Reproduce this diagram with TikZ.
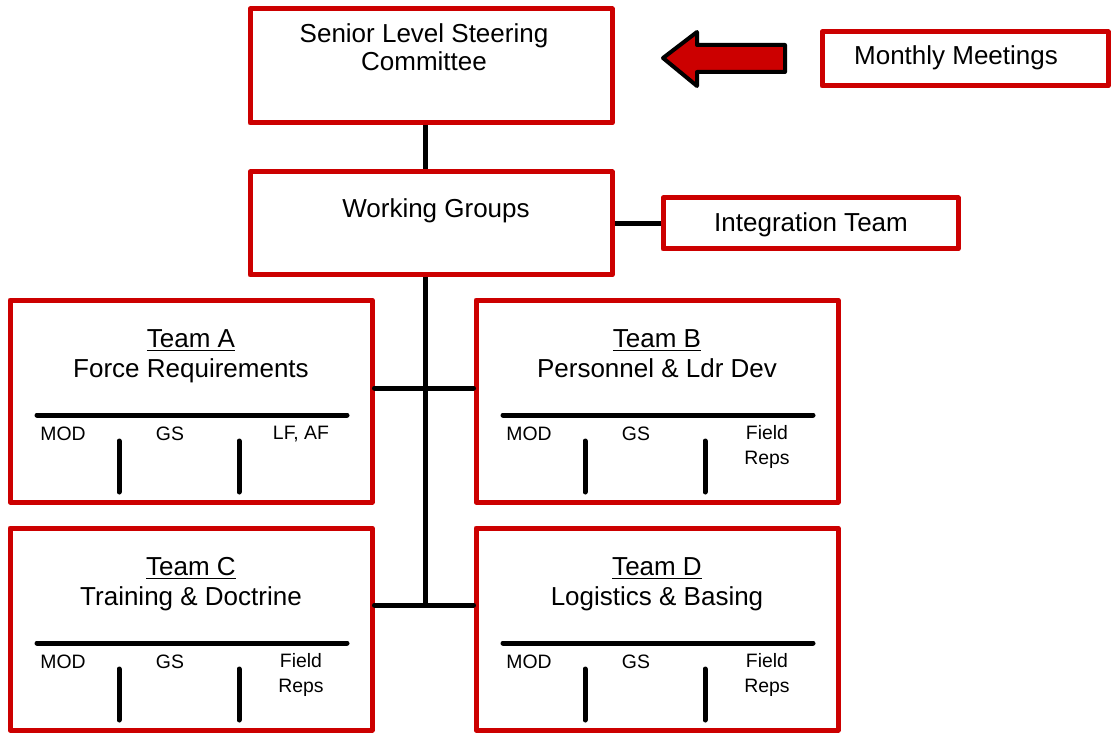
\documentclass[tikz,border=0pt]{standalone}
\usepackage{fontspec}
\setmainfont{Liberation Sans}
\definecolor{boxred}{RGB}{204,0,0}
\usetikzlibrary{calc}

\begin{document}
\begin{tikzpicture}[x=0.5pt, y=-0.5pt,
    redbox/.style={draw=boxred, line width=2.5pt, line join=round, inner sep=0pt},
    bigtxt/.style={font=\fontsize{13}{15}\selectfont, inner sep=0pt, anchor=base},
    smalltxt/.style={font=\fontsize{9.7}{11}\selectfont, inner sep=0pt, anchor=base},
    link/.style={line width=2.5pt, line cap=round}]

    \useasboundingbox (0,0) rectangle (1111,732);

    % Steering committee and meetings
    \node[redbox, minimum width=181pt, minimum height=57pt] (senior) at (431,66) {};
    \node[bigtxt] (senior1) at (424,43) {Senior Level Steering};
    \node[bigtxt] (senior2) at (424,71) {Committee};

    \node[redbox, minimum width=143pt, minimum height=27pt] (monthly) at (965,59) {};
    \node[bigtxt] (monthlytxt) at (956,65) {Monthly Meetings};

    % Block arrow towards the committee
    \fill[boxred, draw=black, line width=2pt, line join=round]
        (663,58) -- (697,32) -- (697,45) -- (785,45) -- (785,72)
        -- (697,72) -- (697,86) -- cycle;

    % Working groups and integration team
    \node[redbox, minimum width=181pt, minimum height=51.5pt] (wg) at (431,223.5) {};
    \node[bigtxt] (wgtxt) at (436,218) {Working Groups};

    \node[redbox, minimum width=147.5pt, minimum height=25.5pt] (integ) at (810.5,223.5) {};
    \node[bigtxt] (integtxt) at (811,232) {Integration Team};

    % Teams
    \foreach \t/\x/\y/\sub/\thA/\thB in {A/10/300/{Force Requirements}/{LF, AF}/{},
            B/476/300/{Personnel \& Ldr Dev}/Field/Reps,
            C/10/528/{Training \& Doctrine}/Field/Reps,
            D/476/528/{Logistics \& Basing}/Field/Reps} {
        \node[redbox, minimum width=181pt, minimum height=101pt] (team\t) at ({\x+181},{\y+101}) {};
        \node[bigtxt] (title\t) at ({\x+181},{\y+47}) {\underline{Team \t}};
        \node[bigtxt] (sub\t) at ({\x+181},{\y+77}) {\sub};
        \draw[link] ({\x+27},{\y+115}) -- ({\x+337},{\y+115});
        \draw[link] ({\x+109},{\y+141}) -- ({\x+109},{\y+192});
        \draw[link] ({\x+229},{\y+141}) -- ({\x+229},{\y+192});
        \node[smalltxt] (mod\t) at ({\x+53},{\y+140}) {MOD};
        \node[smalltxt] (gs\t) at ({\x+160},{\y+140}) {GS};
        \node[smalltxt] (thA\t) at ({\x+291},{\y+139}) {\thA};
        \node[smalltxt] (thB\t) at ({\x+291},{\y+164}) {\thB};
    }

    % Connectors
    \coordinate (ab) at (425,388);
    \coordinate (cd) at (425,605);
    \draw[link, line cap=butt] ([xshift=-3pt]senior.south) -- ([xshift=-3pt]wg.north);
    \draw[link, line cap=butt] (wg.east) -- (integ.west);
    \draw[link, line cap=butt] ([xshift=-3pt]wg.south) -- (cd);
    \draw[link] (teamA.east |- ab) -- (teamB.west |- ab);
    \draw[link] (teamC.east |- cd) -- (teamD.west |- cd);
\end{tikzpicture}
\end{document}
